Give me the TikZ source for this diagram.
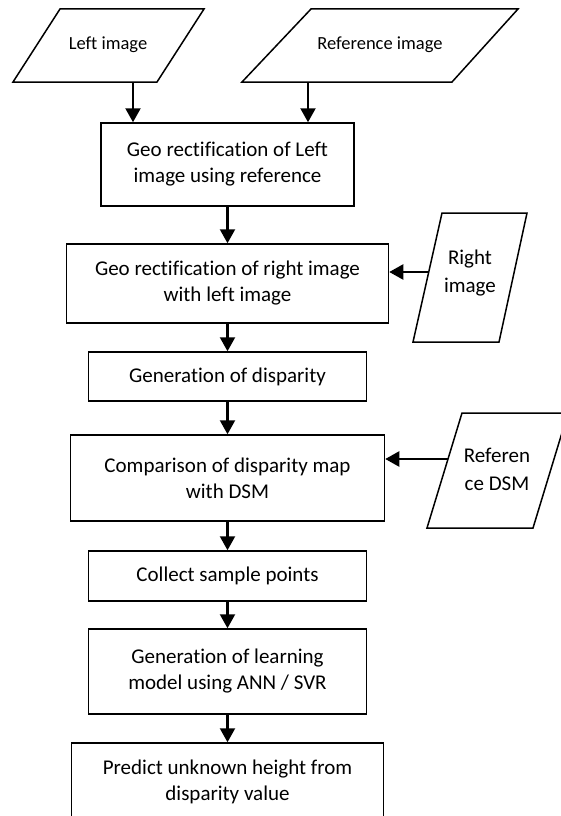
\documentclass[tikz,border=0pt]{standalone}
\usepackage{fontspec}
\setmainfont{Carlito}[Ligatures=NoCommon]
\usetikzlibrary{arrows.meta}

\tikzset{
    proc/.style={draw, line width=1.5pt, align=center, inner sep=2pt,
        font=\fontsize{21}{26}\selectfont},
    para/.style={draw, line width=1.5pt, line join=miter},
    plabel/.style={align=center, inner sep=0pt, font=\fontsize{21}{28}\selectfont},
    tlabel/.style={inner sep=0pt, font=\fontsize{18.5}{22}\selectfont},
    arr/.style={line width=2.2pt, -{Triangle[length=14pt,width=15pt]}}
}

\begin{document}
\begin{tikzpicture}[x=1pt, y=-1pt]
        \path[use as bounding box, clip] (0, 0) rectangle (561, 816);

        % inputs on top
        \draw[para] (60, 9) -- (204, 9) -- (157, 82) -- (13, 82) -- cycle;
        \node[tlabel] (leftimg) at (108, 45) {Left image};
        \draw[para] (311, 9) -- (518, 9) -- (452, 82) -- (242, 82) -- cycle;
        \node[tlabel] (refimg) at (380, 45) {Reference image};

        % main column
        \node[proc, minimum width=253pt, minimum height=83pt] (georef) at (227.5, 164.5)
            {Geo rectification of Left\\image using reference};
        \node[proc, minimum width=322pt, minimum height=79pt] (georight) at (227.5, 283.5)
            {Geo rectification of right image\\with left image};
        \node[proc, minimum width=278pt, minimum height=49pt] (disp) at (227.5, 376.5)
            {Generation of disparity};
        \node[proc, minimum width=314pt, minimum height=86pt] (compare) at (227.5, 478)
            {Comparison of disparity map\\with DSM};
        \node[proc, minimum width=278pt, minimum height=50pt] (collect) at (227.5, 576)
            {Collect sample points};
        \node[proc, minimum width=278pt, minimum height=85pt] (learn) at (227.5, 671.5)
            {Generation of learning\\model using ANN / SVR};
        \node[proc, minimum width=312pt, minimum height=78pt] (predict) at (227.5, 782)
            {Predict unknown height from\\disparity value};

        % side inputs
        \draw[para] (442, 213) -- (527, 213) -- (499, 342) -- (413, 342) -- cycle;
        \node[plabel] (rightimg) at (470, 273) {Right\\image};
        \draw[para] (462, 413) -- (568, 413) -- (533, 528) -- (427, 528) -- cycle;
        \node[plabel] (refdsm) at (497, 469) {Referen\\ce DSM};

        \coordinate (leftfoot) at (133, 82);
        \coordinate (reffoot) at (308, 82);
        \coordinate (rightfoot) at (428.7, 272);
        \coordinate (dsmfoot) at (448, 459);

        \draw[arr] (leftfoot) -- (leftfoot |- georef.north);
        \draw[arr] (reffoot) -- (reffoot |- georef.north);
        \draw[arr] (rightfoot) -- (rightfoot -| georight.east);
        \draw[arr] (dsmfoot) -- (dsmfoot -| compare.east);

        \draw[arr] (georef) -- (georight);
        \draw[arr] (georight) -- (disp);
        \draw[arr] (disp) -- (compare);
        \draw[arr] (compare) -- (collect);
        \draw[arr] (collect) -- (learn);
        \draw[arr] (learn) -- (predict);
    \end{tikzpicture}
\end{document}
